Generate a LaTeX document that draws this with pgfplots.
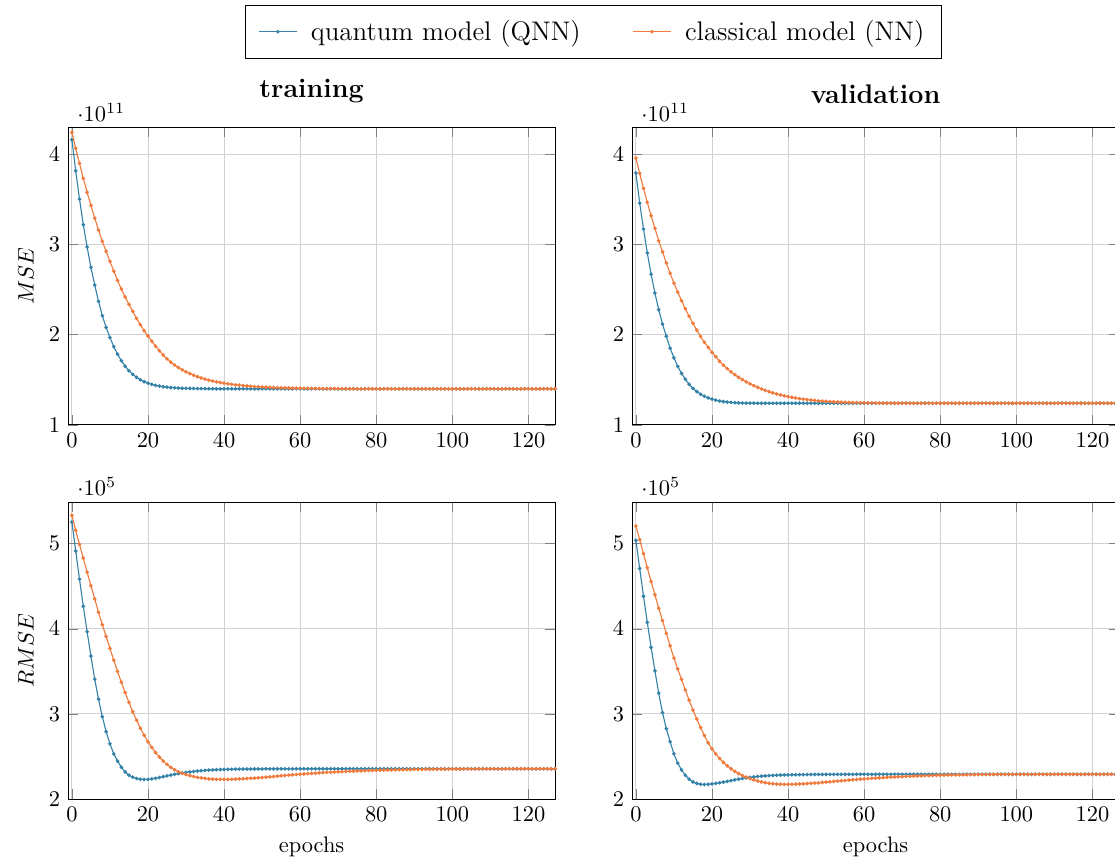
\documentclass[border=0pt]{standalone}
\usepackage{pgfplots}
\pgfplotsset{compat=1.18}
\usepackage{pgfplotstable}
\usepgfplotslibrary{groupplots}

\definecolor{qblue}{RGB}{52,130,168}
\definecolor{corange}{RGB}{240,122,60}

% e: epoch; t = training, v = validation; q = QNN, c = NN
% MSE columns in 1e11, RMSE columns in 1e5
\pgfplotstableread{
e   tq    tc    vq    vc    trq   trc   vrq   vrc
0   4.158 4.240 3.790 3.956 5.255 5.334 5.039 5.208
1   3.815 4.063 3.457 3.786 4.913 5.157 4.709 5.047
2   3.502 3.897 3.169 3.620 4.583 4.992 4.382 4.882
3   3.217 3.731 2.904 3.465 4.264 4.830 4.075 4.717
4   2.970 3.576 2.668 3.317 3.966 4.665 3.781 4.555
5   2.745 3.432 2.461 3.177 3.679 4.505 3.506 4.399
6   2.549 3.291 2.276 3.040 3.408 4.351 3.243 4.241
7   2.369 3.158 2.117 2.918 3.172 4.193 3.014 4.096
8   2.209 3.033 1.981 2.793 2.967 4.048 2.825 3.946
9   2.080 2.922 1.850 2.679 2.790 3.910 2.672 3.800
10  1.968 2.812 1.744 2.571 2.649 3.769 2.531 3.655
11  1.868 2.704 1.649 2.472 2.531 3.632 2.421 3.530
12  1.783 2.601 1.570 2.376 2.444 3.500 2.342 3.405
13  1.711 2.505 1.505 2.287 2.374 3.372 2.279 3.280
14  1.650 2.416 1.450 2.203 2.318 3.250 2.232 3.160
15  1.600 2.335 1.405 2.125 2.279 3.135 2.200 3.045
16  1.560 2.258 1.370 2.051 2.256 3.025 2.182 2.940
17  1.527 2.180 1.340 1.981 2.241 2.925 2.173 2.840
18  1.500 2.110 1.318 1.915 2.232 2.832 2.170 2.745
19  1.479 2.043 1.300 1.859 2.229 2.748 2.172 2.660
20  1.462 1.985 1.285 1.804 2.231 2.672 2.177 2.590
21  1.449 1.927 1.274 1.755 2.236 2.605 2.183 2.530
22  1.438 1.872 1.265 1.704 2.243 2.545 2.190 2.475
23  1.430 1.821 1.258 1.660 2.252 2.492 2.198 2.430
24  1.423 1.774 1.253 1.623 2.262 2.446 2.207 2.390
25  1.418 1.731 1.249 1.588 2.272 2.406 2.216 2.355
26  1.414 1.695 1.246 1.556 2.281 2.372 2.225 2.325
27  1.411 1.663 1.244 1.527 2.290 2.343 2.233 2.298
28  1.408 1.635 1.243 1.501 2.298 2.320 2.241 2.275
29  1.406 1.610 1.242 1.477 2.305 2.302 2.248 2.256
30  1.405 1.588 1.241 1.455 2.312 2.287 2.254 2.240
31  1.404 1.568 1.241 1.435 2.318 2.274 2.259 2.225
32  1.403 1.550 1.240 1.416 2.323 2.263 2.264 2.212
33  1.402 1.534 1.240 1.399 2.328 2.254 2.268 2.200
34  1.402 1.520 1.240 1.383 2.332 2.247 2.271 2.191
35  1.401 1.507 1.240 1.368 2.336 2.241 2.274 2.184
36  1.400 1.496 1.240 1.355 2.339 2.236 2.277 2.179
37  1.400 1.486 1.240 1.343 2.342 2.233 2.279 2.175
38  1.400 1.477 1.240 1.332 2.344 2.231 2.281 2.173
39  1.400 1.469 1.240 1.322 2.346 2.230 2.282 2.172
40  1.400 1.462 1.240 1.313 2.347 2.230 2.283 2.172
41  1.400 1.455 1.240 1.305 2.348 2.230 2.284 2.173
42  1.400 1.450 1.240 1.298 2.349 2.231 2.285 2.174
43  1.400 1.444 1.240 1.291 2.350 2.233 2.286 2.176
44  1.400 1.440 1.240 1.285 2.350 2.235 2.286 2.178
45  1.400 1.436 1.240 1.280 2.351 2.237 2.287 2.181
46  1.400 1.432 1.240 1.275 2.351 2.240 2.287 2.184
47  1.400 1.428 1.240 1.271 2.352 2.243 2.288 2.187
48  1.400 1.425 1.240 1.267 2.352 2.246 2.288 2.190
49  1.400 1.423 1.240 1.264 2.353 2.249 2.288 2.194
50  1.400 1.420 1.240 1.261 2.353 2.252 2.289 2.198
51  1.400 1.418 1.240 1.258 2.354 2.256 2.289 2.202
52  1.400 1.416 1.240 1.256 2.354 2.260 2.289 2.206
53  1.400 1.414 1.240 1.254 2.354 2.264 2.289 2.210
54  1.400 1.413 1.240 1.252 2.354 2.268 2.289 2.214
55  1.400 1.411 1.240 1.250 2.354 2.272 2.289 2.218
56  1.400 1.410 1.240 1.249 2.354 2.276 2.290 2.222
57  1.400 1.409 1.240 1.248 2.354 2.280 2.290 2.226
58  1.400 1.408 1.240 1.247 2.354 2.284 2.290 2.229
59  1.400 1.407 1.240 1.246 2.354 2.287 2.290 2.233
60  1.400 1.406 1.240 1.245 2.354 2.291 2.290 2.236
61  1.400 1.405 1.240 1.244 2.355 2.294 2.290 2.239
62  1.400 1.405 1.240 1.244 2.355 2.297 2.290 2.242
63  1.400 1.404 1.240 1.243 2.355 2.300 2.290 2.245
64  1.400 1.404 1.240 1.243 2.355 2.303 2.290 2.248
65  1.400 1.403 1.240 1.242 2.355 2.306 2.290 2.251
66  1.400 1.403 1.240 1.242 2.355 2.309 2.290 2.254
67  1.400 1.402 1.240 1.242 2.355 2.312 2.290 2.256
68  1.400 1.402 1.240 1.241 2.355 2.314 2.290 2.259
69  1.400 1.402 1.240 1.241 2.355 2.317 2.290 2.261
70  1.400 1.401 1.240 1.241 2.355 2.319 2.290 2.263
71  1.400 1.401 1.240 1.240 2.355 2.321 2.290 2.265
72  1.400 1.401 1.240 1.240 2.355 2.323 2.290 2.267
73  1.400 1.400 1.240 1.240 2.355 2.325 2.290 2.269
74  1.400 1.400 1.240 1.240 2.355 2.327 2.290 2.271
75  1.400 1.400 1.240 1.240 2.355 2.329 2.290 2.272
76  1.400 1.400 1.240 1.240 2.355 2.331 2.290 2.274
77  1.400 1.400 1.240 1.240 2.355 2.332 2.290 2.275
78  1.400 1.400 1.240 1.240 2.355 2.334 2.290 2.277
79  1.400 1.400 1.240 1.240 2.355 2.335 2.290 2.278
80  1.400 1.400 1.240 1.240 2.355 2.337 2.290 2.279
81  1.400 1.400 1.240 1.240 2.355 2.338 2.290 2.280
82  1.400 1.400 1.240 1.240 2.355 2.339 2.290 2.281
83  1.400 1.400 1.240 1.240 2.355 2.340 2.290 2.282
84  1.400 1.400 1.240 1.240 2.355 2.341 2.290 2.283
85  1.400 1.400 1.240 1.240 2.355 2.342 2.290 2.284
86  1.400 1.400 1.240 1.240 2.355 2.343 2.290 2.285
87  1.400 1.400 1.240 1.240 2.355 2.344 2.290 2.285
88  1.400 1.400 1.240 1.240 2.355 2.345 2.290 2.286
89  1.400 1.400 1.240 1.240 2.355 2.346 2.290 2.286
90  1.400 1.400 1.240 1.240 2.355 2.347 2.290 2.287
91  1.400 1.400 1.240 1.240 2.355 2.347 2.290 2.288
92  1.400 1.400 1.240 1.240 2.355 2.348 2.290 2.288
93  1.400 1.400 1.240 1.240 2.355 2.349 2.290 2.288
94  1.400 1.400 1.240 1.240 2.355 2.349 2.290 2.288
95  1.400 1.400 1.240 1.240 2.355 2.350 2.290 2.288
96  1.400 1.400 1.240 1.240 2.355 2.350 2.290 2.289
97  1.400 1.400 1.240 1.240 2.355 2.351 2.290 2.289
98  1.400 1.400 1.240 1.240 2.355 2.351 2.290 2.289
99  1.400 1.400 1.240 1.240 2.355 2.351 2.290 2.289
100 1.400 1.400 1.240 1.240 2.355 2.352 2.290 2.289
101 1.400 1.400 1.240 1.240 2.355 2.352 2.290 2.289
102 1.400 1.400 1.240 1.240 2.355 2.352 2.290 2.289
103 1.400 1.400 1.240 1.240 2.355 2.353 2.290 2.289
104 1.400 1.400 1.240 1.240 2.355 2.353 2.290 2.289
105 1.400 1.400 1.240 1.240 2.355 2.353 2.290 2.289
106 1.400 1.400 1.240 1.240 2.355 2.353 2.290 2.290
107 1.400 1.400 1.240 1.240 2.355 2.354 2.290 2.290
108 1.400 1.400 1.240 1.240 2.355 2.354 2.290 2.290
109 1.400 1.400 1.240 1.240 2.355 2.354 2.290 2.290
110 1.400 1.400 1.240 1.240 2.355 2.354 2.290 2.290
111 1.400 1.400 1.240 1.240 2.355 2.354 2.290 2.290
112 1.400 1.400 1.240 1.240 2.355 2.354 2.290 2.290
113 1.400 1.400 1.240 1.240 2.355 2.354 2.290 2.290
114 1.400 1.400 1.240 1.240 2.355 2.354 2.290 2.290
115 1.400 1.400 1.240 1.240 2.355 2.355 2.290 2.290
116 1.400 1.400 1.240 1.240 2.355 2.355 2.290 2.290
117 1.400 1.400 1.240 1.240 2.355 2.355 2.290 2.290
118 1.400 1.400 1.240 1.240 2.355 2.355 2.290 2.290
119 1.400 1.400 1.240 1.240 2.355 2.355 2.290 2.290
120 1.400 1.400 1.240 1.240 2.355 2.355 2.290 2.290
121 1.400 1.400 1.240 1.240 2.355 2.355 2.290 2.290
122 1.400 1.400 1.240 1.240 2.355 2.355 2.290 2.290
123 1.400 1.400 1.240 1.240 2.355 2.355 2.290 2.290
124 1.400 1.400 1.240 1.240 2.355 2.355 2.290 2.290
125 1.400 1.400 1.240 1.240 2.355 2.355 2.290 2.290
126 1.400 1.400 1.240 1.240 2.355 2.355 2.290 2.290
127 1.400 1.400 1.240 1.240 2.355 2.355 2.290 2.290
}\losses

\begin{document}
\begin{tikzpicture}
\begin{groupplot}[
  group style={group size=2 by 2, horizontal sep=34.4pt, vertical sep=34.4pt},
  scale only axis,
  width=217.4pt, height=132.6pt,
  xmin=-1, xmax=127,
  xtick={0,20,...,120},
  grid=major,
  grid style={gray!35},
  clip mode=individual,
  title style={font=\large\bfseries, yshift=1.5pt},
  every axis plot/.append style={line width=0.5pt, mark=*, mark size=0.55pt},
]
% training MSE
\nextgroupplot[title=training, ylabel={$MSE$}, ymin=1, ymax=4.29, ytick={1,2,3,4},
  legend columns=2, legend cell align=left,
  legend style={at={(1.079,1.414)}, anchor=north, font=\large,
    inner xsep=5.5pt, inner ysep=4.5pt,
    /tikz/every odd column/.append style={column sep=4pt},
    /tikz/every even column/.append style={column sep=21pt}}]
\addplot[qblue] table[x=e, y=tq]{\losses};
\addlegendentry{quantum model (QNN)}
\addplot[corange] table[x=e, y=tc]{\losses};
\addlegendentry{classical model (NN)}
\node[anchor=south west, inner sep=1pt, xshift=3pt, yshift=1.5pt] at (rel axis cs:0,1) {$\cdot 10^{11}$};

% validation MSE
\nextgroupplot[title=validation, ymin=1, ymax=4.29, ytick={1,2,3,4}]
\addplot[qblue] table[x=e, y=vq]{\losses};
\addplot[corange] table[x=e, y=vc]{\losses};
\node[anchor=south west, inner sep=1pt, xshift=3pt, yshift=1.5pt] at (rel axis cs:0,1) {$\cdot 10^{11}$};

% training RMSE
\nextgroupplot[ylabel={$RMSE$}, xlabel={epochs}, ymin=2, ymax=5.49, ytick={2,3,4,5}]
\addplot[qblue] table[x=e, y=trq]{\losses};
\addplot[corange] table[x=e, y=trc]{\losses};
\node[anchor=south west, inner sep=1pt, xshift=3pt, yshift=1.5pt] at (rel axis cs:0,1) {$\cdot 10^{5}$};

% validation RMSE
\nextgroupplot[xlabel={epochs}, ymin=2, ymax=5.49, ytick={2,3,4,5}]
\addplot[qblue] table[x=e, y=vrq]{\losses};
\addplot[corange] table[x=e, y=vrc]{\losses};
\node[anchor=south west, inner sep=1pt, xshift=3pt, yshift=1.5pt] at (rel axis cs:0,1) {$\cdot 10^{5}$};
\end{groupplot}
\pgfresetboundingbox
\path[use as bounding box] ([shift={(-30.4pt,57.1pt)}]group c1r1.north west) rectangle ++(497.8pt,-383.5pt);
\end{tikzpicture}
\end{document}
